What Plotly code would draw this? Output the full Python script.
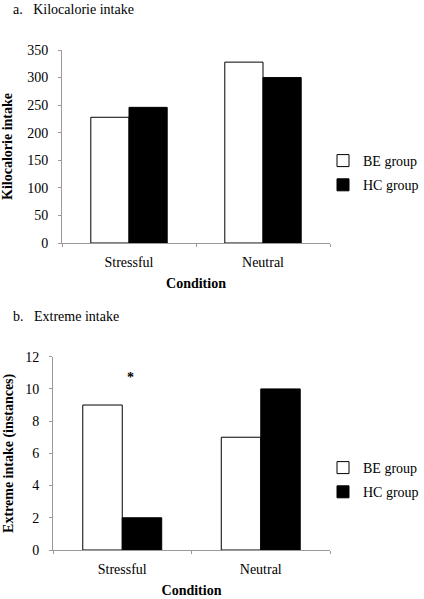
import plotly.graph_objects as go

conditions = ["Stressful", "Neutral"]
kcal_be = [228, 328]
kcal_hc = [246, 300]
extreme_be = [9, 7]
extreme_hc = [2, 10]
star_value = 10.7

FONT = "Liberation Serif"
W, H = 424, 599

def px_x(p):
    return p / W

def px_y(p):
    return 1 - p / H

fig = go.Figure()

# Top chart
fig.add_trace(go.Bar(x=conditions, y=kcal_be, name="BE group", xaxis="x", yaxis="y",
                     marker=dict(color="white", line=dict(color="black", width=1)),
                     legend="legend", legendgroup="a1"))
fig.add_trace(go.Bar(x=conditions, y=kcal_hc, name="HC group", xaxis="x", yaxis="y",
                     marker=dict(color="black", line=dict(color="black", width=1)),
                     legend="legend", legendgroup="a2"))
# Bottom chart
fig.add_trace(go.Bar(x=conditions, y=extreme_be, name="BE group", xaxis="x2", yaxis="y2",
                     marker=dict(color="white", line=dict(color="black", width=1)),
                     legend="legend2", legendgroup="b1"))
fig.add_trace(go.Bar(x=conditions, y=extreme_hc, name="HC group", xaxis="x2", yaxis="y2",
                     marker=dict(color="black", line=dict(color="black", width=1)),
                     legend="legend2", legendgroup="b2"))

axis_common = dict(showgrid=False, zeroline=False, showline=True, linecolor="#999999",
                   linewidth=1, ticks="outside", tickcolor="#999999", ticklen=3,
                   tickfont=dict(family=FONT, size=14, color="black"))

fig.update_layout(
    width=W, height=H,
    margin=dict(l=0, r=0, t=0, b=0, autoexpand=False),
    paper_bgcolor="white", plot_bgcolor="white",
    barmode="group", bargap=0.43, bargroupgap=0,
    font=dict(family=FONT, size=14, color="black"),
    xaxis=dict(domain=[px_x(62), px_x(330)], anchor="y", tickson="boundaries",
               ticklabelstandoff=6,
               title=dict(text="<b>Condition</b>", standoff=9,
                          font=dict(family=FONT, size=14)), **axis_common),
    yaxis=dict(domain=[px_y(243), px_y(50)], anchor="x", range=[0, 350], dtick=50,
               ticklabelstandoff=7,
               title=dict(text="<b>Kilocalorie intake</b>", standoff=13,
                          font=dict(family=FONT, size=14)), **axis_common),
    xaxis2=dict(domain=[px_x(53), px_x(330)], anchor="y2", tickson="boundaries",
                ticklabelstandoff=6,
                title=dict(text="<b>Condition</b>", standoff=9,
                           font=dict(family=FONT, size=14)), **axis_common),
    yaxis2=dict(domain=[px_y(550), px_y(356.7)], anchor="x2", range=[0, 12], dtick=2,
                ticklabelstandoff=7,
                title=dict(text="<b>Extreme intake (instances)</b>", standoff=8,
                           font=dict(family=FONT, size=14)), **axis_common),
    legend=dict(x=px_x(323), y=px_y(145), xanchor="left", yanchor="top",
                tracegroupgap=3, bgcolor="rgba(0,0,0,0)",
                font=dict(family=FONT, size=14)),
    legend2=dict(x=px_x(323), y=px_y(452), xanchor="left", yanchor="top",
                 tracegroupgap=3, bgcolor="rgba(0,0,0,0)",
                 font=dict(family=FONT, size=14)),
    annotations=[
        dict(text="a.   Kilocalorie intake", x=px_x(11), y=px_y(9), xref="paper", yref="paper",
             xanchor="left", yanchor="middle", showarrow=False,
             font=dict(family=FONT, size=14)),
        dict(text="b.   Extreme intake", x=px_x(11), y=px_y(316), xref="paper", yref="paper",
             xanchor="left", yanchor="middle", showarrow=False,
             font=dict(family=FONT, size=14)),
        dict(text="<b>*</b>", x="Stressful", y=star_value, xref="x2", yref="y2",
             xshift=8, showarrow=False, font=dict(family=FONT, size=14)),
    ],
)

fig.write_html("out.html", config={"displayModeBar": False},
               post_script="document.body.style.margin='0';document.body.style.overflow='hidden';")
